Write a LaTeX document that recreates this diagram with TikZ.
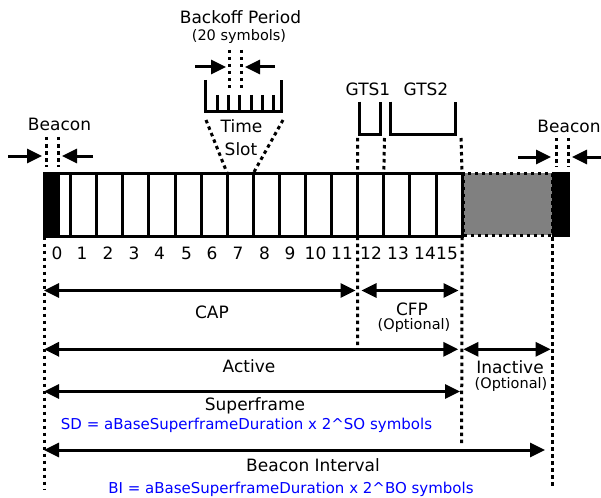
\documentclass[tikz,border=0pt]{standalone}
\usepackage{fontspec}
\setmainfont{DejaVu Sans}
\usetikzlibrary{arrows.meta}
\begin{document}
\begin{tikzpicture}[x=1pt,y=-1pt,
  lbl/.style={font=\fontsize{17}{20}\selectfont, inner sep=0pt, anchor=base},
  smalllbl/.style={font=\fontsize{14.5}{17}\selectfont, inner sep=0pt, anchor=base},
  formula/.style={font=\fontsize{15}{18}\selectfont, text=blue, inner sep=0pt, anchor=base},
  heavy/.style={line width=3pt},
  guide/.style={line width=3pt, dash pattern=on 3.5pt off 3.5pt},
  tipT/.tip={Triangle[length=15pt,width=14pt]},
  dimline/.style={line width=3pt, tipT-tipT},
  pointer/.style={line width=3pt, -tipT},
  slotbox/.style={draw, line width=3pt, minimum width=26.1pt, minimum height=63.4pt, inner sep=0pt, outer sep=0pt, anchor=north west},
  beaconbox/.style={fill=black, inner sep=0pt, outer sep=0pt, anchor=north west}
]
\useasboundingbox (0,0) rectangle (601,497);

% beacons and inactive period
\node[beaconbox, minimum width=17pt, minimum height=66.4pt] (bcnA) at (43,171.8) {};
\node[draw, guide, fill=gray, inner sep=0pt, outer sep=0pt, anchor=north west,
      minimum width=88.5pt, minimum height=61.7pt] (inact) at (463.5,173.3) {};
\node[beaconbox, minimum width=18pt, minimum height=65.6pt] (bcnB) at (552,171.7) {};

% slots
\foreach \i in {0,...,15} {
  \node[slotbox] (s\i) at ({44.5+26.1*\i},173.3) {};
}
% slot numbers
\foreach \i/\x in {0/57,1/82,2/108,3/134,4/159.5,5/186.5,6/212,7/238,8/264.5,9/290,10/315.5,11/342,12/371,13/398,14/425,15/447} {
  \node[lbl] (n\i) at (\x,259) {\i};
}

% left beacon marker
\node[lbl] (beaconA) at (59.5,131) {Beacon};
\coordinate (bA1t) at (46,137); \coordinate (bA1b) at (46,167);
\coordinate (bA2t) at (58.3,137); \coordinate (bA2b) at (58.3,167);
\draw[guide] (bA1t) -- (bA1b);
\draw[guide] (bA2t) -- (bA2b);
\coordinate (pA1s) at (8,156); \coordinate (pA1e) at (42,156);
\coordinate (pA2s) at (93,156); \coordinate (pA2e) at (62,156);
\draw[pointer] (pA1s) -- (pA1e);
\draw[pointer] (pA2s) -- (pA2e);

% right beacon marker
\node[lbl] (beaconB) at (569,132) {Beacon};
\coordinate (bB1t) at (556,138); \coordinate (bB1b) at (556,167);
\coordinate (bB2t) at (568.7,138); \coordinate (bB2b) at (568.7,167);
\draw[guide] (bB1t) -- (bB1b);
\draw[guide] (bB2t) -- (bB2b);
\coordinate (pB1s) at (518,157); \coordinate (pB1e) at (551,157);
\coordinate (pB2s) at (601,157); \coordinate (pB2e) at (572,157);
\draw[pointer] (pB1s) -- (pB1e);
\draw[pointer] (pB2s) -- (pB2e);

% backoff period
\node[lbl] (backoff) at (240.5,24) {Backoff Period};
\node[smalllbl] (backoffsym) at (239,41) {(20 symbols)};
\coordinate (bo1t) at (229.3,50); \coordinate (bo1b) at (229.3,88);
\coordinate (bo2t) at (241.7,50); \coordinate (bo2b) at (241.7,88);
\draw[guide] (bo1t) -- (bo1b);
\draw[guide] (bo2t) -- (bo2b);
\coordinate (po1s) at (195,67); \coordinate (po1e) at (226,67);
\coordinate (po2s) at (275,67); \coordinate (po2e) at (245,67);
\draw[pointer] (po1s) -- (po1e);
\draw[pointer] (po2s) -- (po2e);

% time slot bracket
\coordinate (tsL) at (205,80); \coordinate (tsBL) at (205,112);
\coordinate (tsBR) at (281,112); \coordinate (tsR) at (281,80);
\draw[heavy] (tsL) -- (tsBL) -- (tsBR) -- (tsR);
\foreach \k in {0,...,5} \draw[heavy] ({217.6+11.15*\k},95) -- ({217.6+11.15*\k},112);
\coordinate (tsDL) at (206,120); \coordinate (tsDR) at (283,120);
\draw[guide] (tsDL) -- (s7.north west);
\draw[guide] (tsDR) -- (s8.north west);
\node[lbl] (time) at (241.5,132) {Time};
\node[lbl] (slot) at (241,155) {Slot};

% GTS brackets
\node[lbl] (gts1) at (368,95.5) {GTS1};
\node[lbl] (gts2) at (426,95.5) {GTS2};
\coordinate (g1a) at (359,101.7); \coordinate (g1b) at (359,135);
\coordinate (g1c) at (380.5,135); \coordinate (g1d) at (380.5,101.7);
\draw[heavy] (g1a) -- (g1b) -- (g1c) -- (g1d);
\coordinate (g2a) at (390,101.7); \coordinate (g2b) at (390,135);
\coordinate (g2c) at (455.5,135); \coordinate (g2d) at (455.5,101.7);
\draw[heavy] (g2a) -- (g2b) -- (g2c) -- (g2d);
\coordinate (gu1) at (357.7,138); \coordinate (gu2) at (384.5,138); \coordinate (gu3) at (461,138);
\draw[guide] (gu1) -- (s12.north west);
\draw[guide] (gu2) -- (s13.north west);
\draw[guide] (gu3) -- (s15.north east);

% lower guide lines
\coordinate (gl0) at (44.5,489); \coordinate (gl12) at (357.7,345);
\coordinate (gl15) at (461.6,444); \coordinate (glB) at (552,489);
\draw[guide] (s0.south west) -- (gl0);
\draw[guide] (s12.south west) -- (gl12);
\draw[guide] (s15.south east) -- (gl15);
\draw[guide] (bcnB.south west) -- (glB);

% dimension arrows
\coordinate (capL) at (44,290.5); \coordinate (capR) at (355.5,290.5);
\coordinate (cfpL) at (361.5,290.5); \coordinate (cfpR) at (458.5,290.5);
\draw[dimline] (capL) -- (capR);
\draw[dimline] (cfpL) -- (cfpR);
\node[lbl] (cap) at (212,318) {CAP};
\node[lbl] (cfp) at (412,315) {CFP};
\node[smalllbl] (cfpopt) at (414,329.5) {(Optional)};

\coordinate (actL) at (44,349.3); \coordinate (actR) at (458.3,349.3);
\coordinate (inaL) at (463.3,349.3); \coordinate (inaR) at (550.7,349.3);
\draw[dimline] (actL) -- (actR);
\draw[dimline] (inaL) -- (inaR);
\node[lbl] (active) at (249,372) {Active};
\node[lbl] (inactive) at (510,373) {Inactive};
\node[smalllbl] (inaopt) at (511,388.5) {(Optional)};

\coordinate (sfL) at (44,391.5); \coordinate (sfR) at (460,391.5);
\draw[dimline] (sfL) -- (sfR);
\node[lbl] (superframe) at (255,410) {Superframe};
\node[formula] (sd) at (246.5,429) {SD = aBaseSuperframeDuration x 2\textasciicircum SO symbols};

\coordinate (biL) at (44,450); \coordinate (biR) at (545,450);
\draw[dimline] (biL) -- (biR);
\node[lbl] (bi) at (313,471) {Beacon Interval};
\node[formula] (bif) at (291,493) {BI = aBaseSuperframeDuration x 2\textasciicircum BO symbols};
\end{tikzpicture}
\end{document}
